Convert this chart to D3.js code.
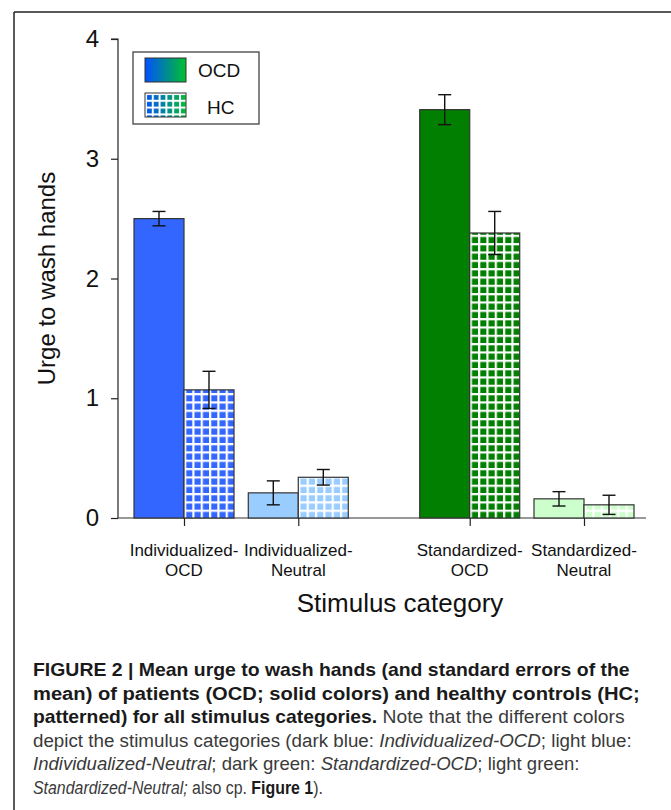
<!DOCTYPE html>
<html><head><meta charset="utf-8">
<script src="https://cdn.jsdelivr.net/npm/d3@7"></script>
<style>
html,body{margin:0;padding:0;background:#fff;}
svg{display:block;}
</style></head>
<body>
<script>
const categories = ["Individualized-OCD", "Individualized-Neutral", "Standardized-OCD", "Standardized-Neutral"];
const categoryLines = [["Individualized-","OCD"],["Individualized-","Neutral"],["Standardized-","OCD"],["Standardized-","Neutral"]];
const categoryPositions = [1, 2, 3.5, 4.5];
const ocdMean = [2.50, 0.21, 3.41, 0.16];
const ocdSE   = [0.06, 0.10, 0.125, 0.06];
const hcMean  = [1.07, 0.34, 2.38, 0.11];
const hcSE    = [0.155, 0.065, 0.18, 0.08];
const categoryColors = ["#3366ff", "#99ccff", "#007f00", "#ccffcc"];
const yTicks = [0, 1, 2, 3, 4];
const legendLabels = ["OCD", "HC"];
const yLabel = "Urge to wash hands";
const xLabel = "Stimulus category";

const W = 671, H = 810;
const svg = d3.select("body").append("svg").attr("width", W).attr("height", H);
const defs = svg.append("defs");

// frame
svg.append("line").attr("x1",14).attr("x2",W).attr("y1",12).attr("y2",12).attr("stroke","#222").attr("stroke-width",1.5);
svg.append("line").attr("x1",14).attr("x2",14).attr("y1",12).attr("y2",H).attr("stroke","#222").attr("stroke-width",1.5);

const y = d3.scaleLinear().domain([0, 4]).range([518, 39]);
const x = d3.scaleLinear().domain([1, 4.5]).range([184, 584]);
const unit = x(2) - x(1);
const barW = unit * 0.4375;
const font = "'Liberation Sans', Arial, Helvetica, sans-serif";

// y axis
const yAxis = d3.axisLeft(y).tickValues(yTicks).tickFormat(d3.format("d")).tickSize(7).tickPadding(12);
const gy = svg.append("g").attr("transform", "translate(118,0)").call(yAxis);
gy.select(".domain").attr("stroke","#222").attr("stroke-width",1.2).attr("d", `M-7,${y(4)}H0V${y(0)}`);
gy.selectAll(".tick line").attr("stroke","#222").attr("stroke-width",1.2);
gy.selectAll(".tick text").attr("font-family", font).attr("font-size", 24).attr("fill","#111");

// x axis
const xAxis = d3.axisBottom(x).tickValues(categoryPositions).tickFormat("").tickSize(8);
const gx = svg.append("g").attr("transform", `translate(0,${y(0)})`).call(xAxis);
gx.select(".domain").attr("stroke","#333").attr("stroke-width",1.2).attr("d", `M118,0H646`);
gx.selectAll(".tick line").attr("stroke","#222").attr("stroke-width",1.2);

// patterns for HC
const cell = 8.33;
categories.forEach((c, i) => {
  const p = defs.append("pattern").attr("id", "pat"+i).attr("patternUnits","userSpaceOnUse")
    .attr("width", cell).attr("height", cell)
    .attr("patternTransform", `translate(${x(categoryPositions[i])},${y(0)})`);
  p.append("rect").attr("width", cell).attr("height", cell).attr("fill", categoryColors[i]);
  p.append("rect").attr("width", 2.2).attr("height", cell).attr("fill", "#fff");
  p.append("rect").attr("width", cell).attr("height", 2.2).attr("fill", "#fff");
});

const bars = svg.append("g");
categories.forEach((c, i) => {
  const cx = x(categoryPositions[i]);
  bars.append("rect").attr("x", cx - barW).attr("y", y(ocdMean[i])).attr("width", barW)
    .attr("height", y(0) - y(ocdMean[i])).attr("fill", categoryColors[i]).attr("stroke","#333").attr("stroke-width",1.2);
  bars.append("rect").attr("x", cx).attr("y", y(hcMean[i])).attr("width", barW)
    .attr("height", y(0) - y(hcMean[i])).attr("fill", `url(#pat${i})`).attr("stroke","#333").attr("stroke-width",1.2);
});

// error bars
const eb = svg.append("g").attr("stroke","#111").attr("stroke-width",1.4);
function errBar(cx, m, se) {
  eb.append("line").attr("x1",cx).attr("x2",cx).attr("y1",y(m+se)).attr("y2",y(m-se));
  eb.append("line").attr("x1",cx-6.5).attr("x2",cx+6.5).attr("y1",y(m+se)).attr("y2",y(m+se));
  eb.append("line").attr("x1",cx-6.5).attr("x2",cx+6.5).attr("y1",y(m-se)).attr("y2",y(m-se));
}
categories.forEach((c, i) => {
  const cx = x(categoryPositions[i]);
  errBar(cx - barW/2, ocdMean[i], ocdSE[i]);
  errBar(cx + barW/2, hcMean[i], hcSE[i]);
});

// x tick labels
categories.forEach((c, i) => {
  const t = svg.append("text").attr("text-anchor","middle").attr("font-family",font).attr("font-size",17).attr("fill","#111");
  categoryLines[i].forEach((ln, j) => {
    t.append("tspan").attr("x", x(categoryPositions[i])).attr("y", 556 + j*19.5).text(ln);
  });
});

// axis titles
svg.append("text").attr("x", 400).attr("y", 612).attr("text-anchor","middle").attr("font-family",font)
  .attr("font-size",26).attr("fill","#111").text(xLabel);
svg.append("text").attr("transform", `translate(55,${(y(0)+y(4))/2}) rotate(-90)`).attr("text-anchor","middle")
  .attr("font-family",font).attr("font-size",24).attr("fill","#111").text(yLabel);

// legend
const grad = defs.append("linearGradient").attr("id","lgGrad").attr("x1","0").attr("x2","1").attr("y1","0").attr("y2","0");
grad.append("stop").attr("offset","0").attr("stop-color","#0050ff");
grad.append("stop").attr("offset","1").attr("stop-color","#00c030");
const lp = defs.append("pattern").attr("id","lgPat").attr("patternUnits","userSpaceOnUse")
  .attr("width",6.8).attr("height",6.8).attr("patternTransform","translate(145,93)");
lp.append("rect").attr("width",2).attr("height",6.8).attr("fill","#fff");
lp.append("rect").attr("width",6.8).attr("height",2).attr("fill","#fff");

const lg = svg.append("g");
lg.append("rect").attr("x",133).attr("y",52).attr("width",126).attr("height",72).attr("fill","#fff").attr("stroke","#333").attr("stroke-width",1.2);
lg.append("rect").attr("x",145).attr("y",58).attr("width",41).attr("height",24).attr("fill","url(#lgGrad)").attr("stroke","#333").attr("stroke-width",1);
lg.append("rect").attr("x",145).attr("y",93).attr("width",41).attr("height",24).attr("fill","url(#lgGrad)");
lg.append("rect").attr("x",145).attr("y",93).attr("width",41).attr("height",24).attr("fill","url(#lgPat)").attr("stroke","#333").attr("stroke-width",1);
lg.append("text").attr("x",198).attr("y",77).attr("font-family",font).attr("font-size",19).attr("fill","#111").text(legendLabels[0]);
lg.append("text").attr("x",207).attr("y",114).attr("font-family",font).attr("font-size",19).attr("fill","#111").text(legendLabels[1]);

// caption
const capFont = "'Liberation Sans Narrow', 'Arial Narrow', 'Liberation Sans', Arial, sans-serif";
const captionLines = [
  [["b","FIGURE 2 | Mean urge to wash hands (and standard errors of the"]],
  [["b","mean) of patients (OCD; solid colors) and healthy controls (HC;"]],
  [["b","patterned) for all stimulus categories."],["n"," Note that the different colors"]],
  [["n","depict the stimulus categories (dark blue: "],["i","Individualized-OCD"],["n","; light blue:"]],
  [["i","Individualized-Neutral"],["n","; dark green: "],["i","Standardized-OCD"],["n","; light green:"]],
  [["i","Standardized-Neutral;"],["n"," also cp. "],["b","Figure 1"],["n",")."]]
];
const captionWidths = [597, 607, 592, 599, 547, 290];
captionLines.forEach((parts, li) => {
  const g = svg.append("g");
  const t = g.append("text").attr("font-family", capFont).attr("font-size",19).attr("fill","#3a3a3a").attr("xml:space","preserve");
  parts.forEach(([s, txt]) => {
    const ts = t.append("tspan").text(txt);
    if (s === "b") ts.attr("font-weight","bold").attr("fill","#1a1a1a");
    if (s === "i") ts.attr("font-style","italic");
  });
  const w = t.node().getComputedTextLength();
  const sx = captionWidths[li] / w;
  g.attr("transform", `translate(33,${676 + li*23.6}) scale(${sx},1)`);
});
</script>
</body></html>
